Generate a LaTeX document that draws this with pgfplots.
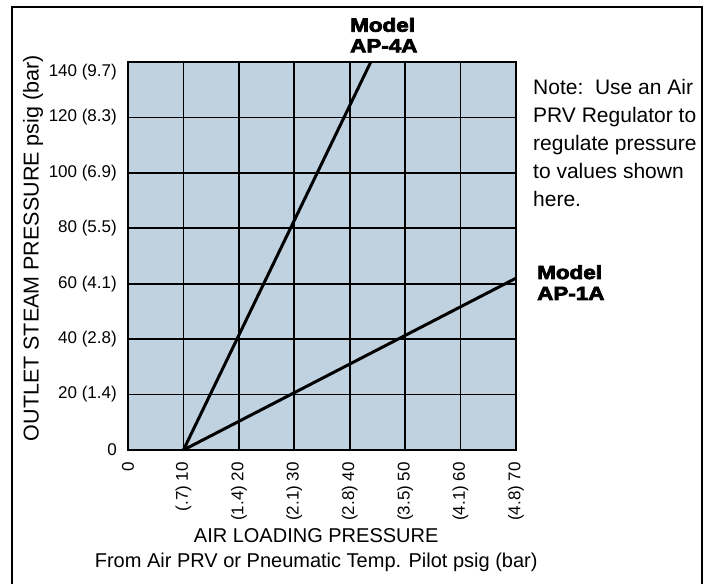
\documentclass[border=0pt]{standalone}
\usepackage{fontspec}
\setmainfont{Liberation Sans}
\newfontfamily\heavy[FakeStretch=1.18,FakeBold=4]{Liberation Sans Bold}
\usepackage{pgfplots}
\pgfplotsset{compat=1.18}
\definecolor{cellblue}{RGB}{192,210,224}
\begin{document}
\begin{tikzpicture}[x=1bp,y=1bp]
\useasboundingbox (0,0) rectangle (706,584);
\begin{axis}[
  at={(128bp,134bp)}, anchor=south west,
  scale only axis, width=388bp, height=388bp,
  xmin=0, xmax=70, ymin=0, ymax=140,
  axis background/.style={fill=cellblue},
  xtick={0,10,20,30,40,50,60,70},
  xticklabels={0,(.7) 10,(1.4) 20,(2.1) 30,(2.8) 40,(3.5) 50,(4.1) 60,(4.8) 70},
  ytick={0,20,40,60,80,100,120},
  yticklabels={0,20 (1.4),40 (2.8),60 (4.1),80 (5.5),100 (6.9),120 (8.3)},
  extra y ticks={140},
  extra y tick labels={140 (9.7)},
  extra y tick style={yticklabel style={yshift=-10bp}},
  major tick length=0pt,
  grid=major,
  major grid style={black, line width=1.6bp},
  axis line style={black, line width=2bp},
  tick label style={font=\fontsize{17bp}{20bp}\selectfont},
  xticklabel style={rotate=90, anchor=east, inner sep=0pt, xshift=-12bp},
  yticklabel style={anchor=east, inner sep=0pt, xshift=-11bp},
  xlabel={AIR LOADING PRESSURE\\From Air PRV or Pneumatic Temp. Pilot psig (bar)},
  xlabel style={at={(rel axis cs:0.485,0)}, anchor=center, yshift=-100bp, align=center,
    font=\fontsize{20bp}{25bp}\selectfont},
  ylabel={OUTLET STEAM PRESSURE psig (bar)},
  ylabel style={at={(rel axis cs:0,0.52)}, anchor=center, rotate=0, yshift=95bp,
    font=\fontsize{21.5bp}{25bp}\selectfont},
]
\addplot[black, line width=3bp] coordinates {(10,0) (43.8,140)};
\addplot[black, line width=3bp] coordinates {(10,0) (70,62)};
\end{axis}
\draw[line width=2bp] (11.5,0) -- (11.5,577) -- (701.5,577) -- (701.5,0);
\begin{scope}[every node/.style={anchor=base west, inner sep=0pt, font=\heavy\fontsize{19bp}{20bp}\selectfont}]
\node at (350,552.3) {Model};
\node at (350,531.7) {AP-4A};
\node at (537,305) {Model};
\node at (537,284) {AP-1A};
\end{scope}
\begin{scope}[every node/.style={anchor=base west, inner sep=0pt, font=\fontsize{21bp}{25bp}\selectfont}]
\node at (533,489.7) {Note:\ \ Use an Air};
\node at (533,461.7) {PRV Regulator to};
\node at (533,433.7) {regulate pressure};
\node at (533,405.7) {to values shown};
\node at (533,377.7) {here.};
\end{scope}
\end{tikzpicture}
\end{document}
